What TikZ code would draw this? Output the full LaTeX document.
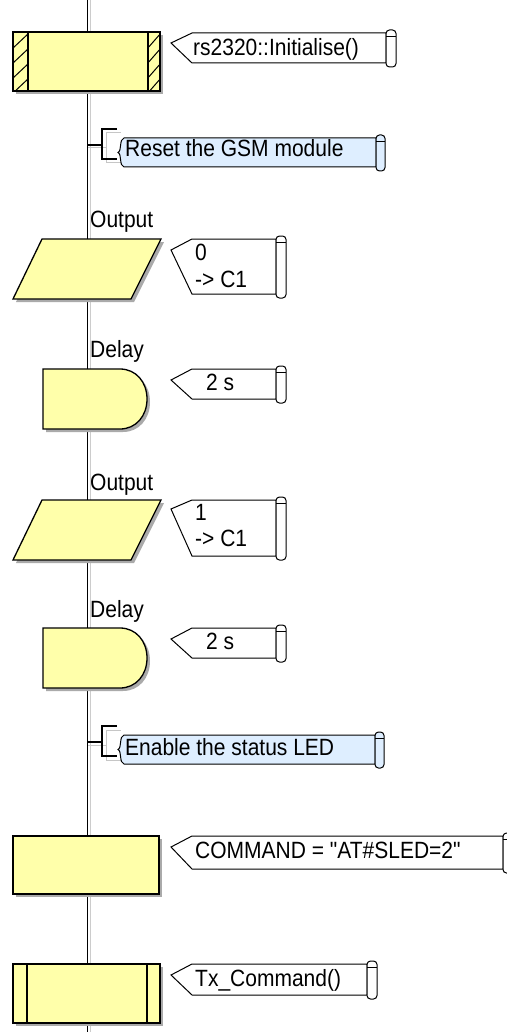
\documentclass[tikz,border=0pt]{standalone}
\usepackage{fontspec}
\setmainfont{Liberation Sans}[Ligatures=TeXOff]
\definecolor{fcyel}{RGB}{255,255,170}
\definecolor{fcblue}{RGB}{222,238,255}
\definecolor{shad}{RGB}{170,170,170}
\newcommand{\mycallout}[4]{% #1 top, #2 bottom, #3 point y, #4 right
  \draw[callbox] (192,#1) -- (#4,#1) -- (#4,#2) -- (192,#2) -- (171,#3) -- cycle;
  \draw[callbox, rounded corners=3.5pt] (#4,{#1-3}) rectangle ({#4+10},{#2+4});
  \draw[line width=0.8pt] (#4,{#1+3}) -- ({#4+10},{#1+3});
}
\newcommand{\mypara}[1]{%
  \fill[shad] (45,{#1+3}) -- (164,{#1+3}) -- (134,{#1+63}) -- (16,{#1+63}) -- cycle;
  \draw[fcshape] (42,#1) -- (161,#1) -- (131,{#1+60}) -- (13,{#1+60}) -- cycle;
}
\newcommand{\mydelay}[1]{%
  \fill[shad] (46,{#1+3}) -- (123,{#1+3}) .. controls (139,{#1+3}) and (150,{#1+16}) .. (150,{#1+33}) .. controls (150,{#1+50}) and (139,{#1+63}) .. (123,{#1+63}) -- (46,{#1+63}) -- cycle;
  \draw[fcshape] (43,#1) -- (120,#1) .. controls (136,#1) and (147,{#1+13}) .. (147,{#1+30}) .. controls (147,{#1+47}) and (136,{#1+60}) .. (120,{#1+60}) -- (43,{#1+60}) -- cycle;
}
\newcommand{\mycomment}[3]{% #1 y offset, #2 right, #3 unused
  \draw[gray!45, line width=1pt] (88,{#1+148}) -- (106,{#1+148});
  \draw[gray!45, line width=1pt] (121,{#1+133}) -- (106,{#1+133}) -- (106,{#1+163}) -- (121,{#1+163});
  \draw[line width=1.2pt] (87,{#1+145}) -- (102,{#1+145});
  \draw[line width=1.2pt] (117,{#1+129}) -- (102,{#1+129}) -- (102,{#1+159}) -- (117,{#1+159});
  \draw[cmtbox] (124,{#1+138}) .. controls (119,{#1+139}) and (122,{#1+151}) .. (118,{#1+152.5}) .. controls (122,{#1+154}) and (119,{#1+166}) .. (124,{#1+167}) -- (#2,{#1+167}) -- (#2,{#1+138}) -- cycle;
  \draw[cmtbox, rounded corners=3.5pt] (#2,{#1+135}) rectangle ({#2+9},{#1+171});
  \draw[line width=0.8pt] (#2,{#1+141}) -- ({#2+9},{#1+141});
}
\newcommand{\tall}[1]{\scalebox{1}[1.12]{#1}}
\begin{document}
\begin{tikzpicture}[x=1pt,y=-1pt,
  fcshape/.style={draw=black, line width=1.3pt, fill=fcyel},
  callbox/.style={draw=black, line width=1pt, fill=white},
  cmtbox/.style={draw=black, line width=1pt, fill=fcblue},
  txt/.style={font=\fontsize{21}{24}\selectfont, inner sep=0pt, anchor=base west},
]
\useasboundingbox (0,0) rectangle (506,1032);
% main flow line
\coordinate (stop) at (90,0); \coordinate (sbot) at (90,1032);
\coordinate (ltop) at (87.5,0); \coordinate (lbot) at (87.5,1032);
\draw[gray!40, line width=1pt] (stop) -- (sbot);
\draw[line width=1.3pt] (ltop) -- (lbot);

% 1: macro call with hatched sides
\fill[shad] (16,35) rectangle (163,94);
\draw[fcshape] (13,32) rectangle (160,91);
\begin{scope}
  \clip (13,32) rectangle (28,91);
  \foreach \y in {33,48,63,78} \draw[line width=1pt] (12,{\y+16}) -- (29,\y);
\end{scope}
\begin{scope}
  \clip (148,32) rectangle (160,91);
  \foreach \y in {33,48,63,78} \draw[line width=1pt] (147,{\y+16}) -- (161,\y);
\end{scope}
\draw[line width=1.3pt] (28,32) -- (28,91) (148,32) -- (148,91);
\draw[line width=1.3pt] (13,32) rectangle (160,91);
\mycallout{33}{63}{43}{386}
\node[txt] (t1) at (193,56) {\tall{rs2320::Initialise()}};

% comment 1
\mycomment{0}{376}{}
\node[txt] (c1) at (125,157) {\tall{Reset the GSM module}};

% output 1
\node[txt] (l1) at (90,228) {\tall{Output}};
\mypara{239}
\mycallout{239}{294}{250}{276}
\node[txt] (t2a) at (195,260) {\tall{0}};
\node[txt] (t2b) at (195,287) {\tall{-> C1}};

% delay 1
\node[txt] (l2) at (90,357) {\tall{Delay}};
\mydelay{369}
\mycallout{369}{399}{380}{276}
\node[txt] (t3) at (206,390) {\tall{2 s}};

% output 2
\node[txt] (l3) at (90,490) {\tall{Output}};
\mypara{500}
\mycallout{500}{556}{509}{276}
\node[txt] (t4a) at (195,520) {\tall{1}};
\node[txt] (t4b) at (195,546) {\tall{-> C1}};

% delay 2
\node[txt] (l4) at (90,617) {\tall{Delay}};
\mydelay{628}
\mycallout{628}{658}{639}{276}
\node[txt] (t5) at (206,649) {\tall{2 s}};

% comment 2
\mycomment{597}{375}{}
\node[txt] (c2) at (125,755) {\tall{Enable the status LED}};

% calculation
\fill[shad] (16,839) rectangle (162,897);
\draw[fcshape] (13,836) rectangle (159,894);
\mycallout{836}{869}{847}{503}
\node[txt] (t6) at (195,858) {\tall{COMMAND = "AT\#SLED=2"}};

% macro call
\fill[shad] (16,967) rectangle (163,1026);
\draw[fcshape] (13,964) rectangle (160,1023);
\draw[line width=1.3pt] (27,964) -- (27,1023) (147,964) -- (147,1023);
\mycallout{964}{995}{975}{367}
\node[txt] (t7) at (195,986) {\tall{Tx\_Command()}};
\end{tikzpicture}
\end{document}
